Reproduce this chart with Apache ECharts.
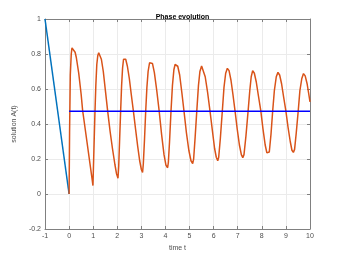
<!DOCTYPE html>
<html>
<head>
<meta charset="utf-8">
<script src="https://cdn.jsdelivr.net/npm/echarts@6/dist/echarts.min.js"></script>
<style>html,body{margin:0;padding:0;background:#fff}#c{width:343px;height:258px}</style>
</head>
<body>
<div id="c"></div>
<script>
var titleText = 'Phase evolution';
var xLabel = 'time t';
var yLabel = 'solution A(t)';
var xTicks = [-1, 0, 1, 2, 3, 4, 5, 6, 7, 8, 9, 10];
var yTicks = [-0.2, 0, 0.2, 0.4, 0.6, 0.8, 1];

var initialLine = [[-1, 1], [0, 0]];
var meanLine = [[0, 0.473], [10, 0.473]];
var solution = [
  [0,0],[0.02,0.35],[0.05,0.68],[0.09,0.80],[0.12,0.835],[0.15,0.842],
  [0.2,0.832],[0.25,0.81],[0.3,0.78],[0.4,0.69],[0.5,0.57],[0.565,0.473],[0.6,0.44],[0.7,0.34],[0.8,0.24],[0.9,0.14],[0.96,0.08],[0.99,0.048],
  [1.03,0.25],[1.07,0.45],[1.11,0.62],[1.15,0.74],[1.19,0.79],[1.23,0.807],
  [1.28,0.798],[1.34,0.77],[1.42,0.70],[1.5,0.60],[1.6,0.475],[1.7,0.36],[1.8,0.26],[1.9,0.17],[1.97,0.115],[2.03,0.09],
  [2.06,0.16],[2.10,0.32],[2.14,0.475],[2.18,0.62],[2.22,0.72],[2.26,0.77],[2.29,0.781],
  [2.35,0.77],[2.42,0.73],[2.5,0.66],[2.58,0.57],[2.67,0.473],[2.76,0.37],[2.85,0.27],[2.93,0.19],[3.0,0.14],[3.05,0.123],
  [3.08,0.17],[3.13,0.31],[3.18,0.473],[3.23,0.61],[3.28,0.70],[3.34,0.75],[3.39,0.761],
  [3.46,0.746],[3.54,0.694],[3.64,0.59],[3.74,0.473],[3.84,0.34],[3.94,0.225],[4.02,0.165],[4.09,0.15],
  [4.12,0.18],[4.17,0.30],[4.23,0.473],[4.29,0.62],[4.35,0.71],[4.40,0.74],[4.44,0.745],
  [4.51,0.73],[4.59,0.68],[4.68,0.58],[4.77,0.473],[4.87,0.35],[4.97,0.25],[5.06,0.19],[5.13,0.174],
  [5.17,0.20],[5.23,0.32],[5.30,0.473],[5.37,0.62],[5.43,0.70],[5.50,0.731],
  [5.57,0.72],[5.65,0.67],[5.75,0.58],[5.85,0.473],[5.95,0.36],[6.04,0.26],[6.11,0.21],[6.17,0.19],
  [6.21,0.21],[6.28,0.32],[6.36,0.473],[6.43,0.61],[6.50,0.69],[6.57,0.718],
  [6.64,0.705],[6.72,0.65],[6.80,0.57],[6.89,0.473],[6.98,0.37],[7.07,0.28],[7.15,0.225],[7.21,0.208],
  [7.26,0.225],[7.34,0.33],[7.43,0.473],[7.50,0.59],[7.56,0.67],[7.62,0.705],
  [7.69,0.69],[7.77,0.64],[7.86,0.56],[7.96,0.473],[8.05,0.37],[8.14,0.28],[8.21,0.235],[8.26,0.224],
  [8.31,0.24],[8.38,0.34],[8.45,0.473],[8.52,0.59],[8.60,0.67],[8.67,0.695],
  [8.74,0.68],[8.82,0.63],[8.91,0.55],[9.0,0.473],[9.09,0.38],[9.18,0.30],[9.25,0.25],[9.31,0.238],
  [9.36,0.255],[9.43,0.35],[9.51,0.473],[9.58,0.59],[9.66,0.66],[9.73,0.688],
  [9.80,0.675],[9.88,0.63],[9.95,0.57],[10,0.527]
];

var axisCol = '#808080';
var labelCol = '#4d4d4d';
var fontFam = 'Liberation Sans, Arial, sans-serif';

function fmtY(v) {
  var r = Math.round(v * 10) / 10;
  return String(r);
}

var chart = echarts.init(document.getElementById('c'), null, {renderer: 'canvas'});
chart.setOption({
  animation: false,
  backgroundColor: '#fff',
  title: {
    text: titleText,
    left: 177.5,
    textAlign: 'center',
    top: 9,
    textStyle: {fontSize: 7, fontWeight: 'bold', color: '#000', fontFamily: fontFam}
  },
  grid: {left: 45, right: 33, top: 19, bottom: 29, containLabel: false},
  xAxis: [{
    type: 'value', min: xTicks[0], max: xTicks[xTicks.length - 1], interval: 1,
    name: xLabel, nameLocation: 'middle', nameGap: 15,
    nameTextStyle: {fontSize: 7, color: labelCol, fontFamily: fontFam},
    axisLine: {show: true, onZero: false, lineStyle: {color: axisCol, width: 1}},
    axisTick: {show: true, inside: true, length: 3, lineStyle: {color: axisCol}},
    axisLabel: {fontSize: 7, color: labelCol, margin: 4, fontFamily: fontFam},
    splitLine: {show: true, lineStyle: {color: '#ebebeb', width: 1}}
  }, {
    type: 'value', position: 'top', min: xTicks[0], max: xTicks[xTicks.length - 1], interval: 1,
    axisLine: {show: true, onZero: false, lineStyle: {color: axisCol, width: 1}},
    axisTick: {show: true, inside: true, length: 3, lineStyle: {color: axisCol}},
    axisLabel: {show: false}, splitLine: {show: false}
  }],
  yAxis: [{
    type: 'value', min: yTicks[0], max: yTicks[yTicks.length - 1], interval: 0.2,
    name: yLabel, nameLocation: 'middle', nameGap: 18, nameRotate: 90,
    nameTextStyle: {fontSize: 7, color: labelCol, fontFamily: fontFam},
    axisLine: {show: true, onZero: false, lineStyle: {color: axisCol, width: 1}},
    axisTick: {show: true, inside: true, length: 3, lineStyle: {color: axisCol}},
    axisLabel: {fontSize: 7, color: labelCol, margin: 4, fontFamily: fontFam, formatter: fmtY},
    splitLine: {show: true, lineStyle: {color: '#ebebeb', width: 1}}
  }, {
    type: 'value', position: 'right', min: yTicks[0], max: yTicks[yTicks.length - 1], interval: 0.2,
    axisLine: {show: true, onZero: false, lineStyle: {color: axisCol, width: 1}},
    axisTick: {show: true, inside: true, length: 3, lineStyle: {color: axisCol}},
    axisLabel: {show: false}, splitLine: {show: false}
  }],
  series: [{
    type: 'line', data: initialLine, showSymbol: false, symbol: 'none',
    lineStyle: {color: '#0072BD', width: 1.5}, z: 3
  }, {
    type: 'line', data: solution, showSymbol: false, symbol: 'none',
    lineStyle: {color: '#D95319', width: 1.5}, z: 4
  }, {
    type: 'line', data: meanLine, showSymbol: false, symbol: 'none',
    lineStyle: {color: '#0000FF', width: 1.5}, z: 5
  }]
});
</script>
</body>
</html>
